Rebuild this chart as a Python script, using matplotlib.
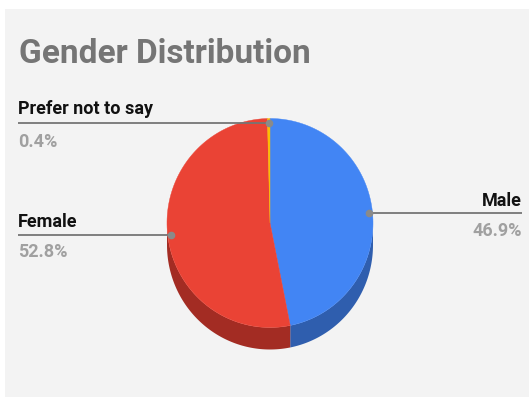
import numpy as np
import matplotlib
matplotlib.use("Agg")
import matplotlib.pyplot as plt
from matplotlib.patches import Rectangle

# chart data
labels = ["Male", "Female", "Prefer not to say"]
values = [46.9, 52.8, 0.4]
pct_text = ["46.9%", "52.8%", "0.4%"]
colors = ["#4285f4", "#ea4335", "#fbbc04"]
side_colors = ["#2f5eae", "#a32c23", "#b48806"]

FONT = ["Liberation Sans Narrow", "Roboto", "DejaVu Sans"]

W, H = 531, 399
fig = plt.figure(figsize=(W / 100, H / 100), dpi=100)
ax = fig.add_axes([0, 0, 1, 1])
ax.set_xlim(0, W)
ax.set_ylim(H, 0)
ax.axis("off")
fig.patch.set_facecolor("white")
ax.add_patch(Rectangle((5, 9), W - 7, H - 11, facecolor="#f3f3f3", edgecolor="none", zorder=0))

# pie geometry (pixels, y down); angles clockwise from 12 o'clock
cx, cy, rx, ry, depth = 270, 223, 103, 104.5, 22


def pt(theta_deg, r=1.0):
    t = np.radians(theta_deg)
    return cx + r * rx * np.sin(t), cy - r * ry * np.cos(t)


total = sum(values)
bounds = np.concatenate([[0], np.cumsum(values) / total * 360])

# sides (visible front half: 90..270 deg)
for i in range(len(values)):
    a0, a1 = max(bounds[i], 90), min(bounds[i + 1], 270)
    if a1 <= a0:
        continue
    th = np.linspace(a0, a1, 80)
    x, y = pt(th)
    xs = np.concatenate([x, x[::-1]])
    ys = np.concatenate([y, y[::-1] + depth])
    ax.fill(xs, ys, color=side_colors[i], lw=0, zorder=2)

# top faces
for i in range(len(values)):
    th = np.linspace(bounds[i], bounds[i + 1], 120)
    x, y = pt(th)
    ax.fill(np.concatenate([[cx], x]), np.concatenate([[cy], y]), color=colors[i], lw=0.3,
            ec=colors[i], zorder=3)

# labels with leader lines
label_pos = {
    "Male": dict(side="right", x=522, y_lab=206, y_line=213, y_pct=236),
    "Female": dict(side="left", x=18, y_lab=227, y_line=235, y_pct=257),
    "Prefer not to say": dict(side="left", x=18, y_lab=114, y_line=123, y_pct=147),
}
for i, lab in enumerate(labels):
    p = label_pos[lab]
    mid = (bounds[i] + bounds[i + 1]) / 2
    ax_, ay_ = pt(mid, 0.965)
    ha = "right" if p["side"] == "right" else "left"
    ax.plot([ax_, p["x"]], [p["y_line"], p["y_line"]], color="#757575", lw=1.3, zorder=4,
            solid_capstyle="butt")
    ax.plot([ax_], [p["y_line"]], "o", ms=4.5, color="#8a8a8a", zorder=5)
    ax.text(p["x"], p["y_lab"], lab, ha=ha, va="baseline", fontsize=13, fontweight="bold",
            color="#111111", family=FONT, zorder=5)
    ax.text(p["x"], p["y_pct"], pct_text[i], ha=ha, va="baseline", fontsize=13,
            fontweight="bold", color="#a0a0a0", family=FONT, zorder=5)

ax.text(19, 63, "Gender Distribution", ha="left", va="baseline", fontsize=24,
        fontweight="bold", color="#757575", family=FONT)

fig.savefig("out.png", dpi=100, facecolor=fig.get_facecolor())
